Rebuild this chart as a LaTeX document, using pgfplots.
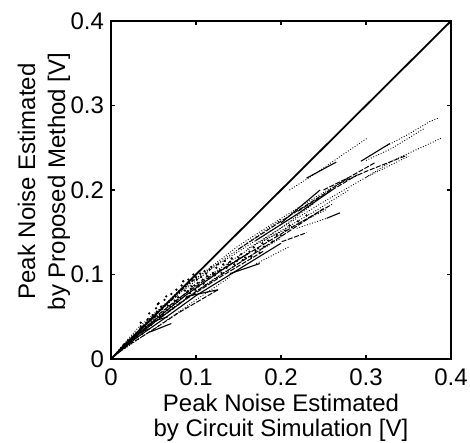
\documentclass[border=0pt]{standalone}
\usepackage{fontspec}
\setmainfont{Liberation Sans}
\usepackage{pgfplots}
\pgfplotsset{compat=1.18}

\begin{document}
\begin{tikzpicture}
\pgfplotsset{
  dotl/.style={black, line width=0.45pt, dash pattern=on 0.45pt off 0.9pt},
  dshl/.style={black, line width=0.5pt, dash pattern=on 2.5pt off 0.8pt},
  sol/.style={black, line width=0.55pt},
}
\begin{axis}[
    scale only axis,
    width=170pt, height=169pt,
    xmin=0, xmax=0.4, ymin=0, ymax=0.4,
    xtick={0,0.1,0.2,0.3,0.4},
    ytick={0,0.1,0.2,0.3,0.4},
    xticklabels={0,0.1,0.2,0.3,0.4},
    yticklabels={0,0.1,0.2,0.3,0.4},
    tick align=inside,
    xtick pos=both, ytick pos=both,
    xticklabel pos=lower, yticklabel pos=left,
    major tick length=2.2pt,
    axis line style={line width=0.9pt},
    tick style={line width=0.6pt, black},
    ticklabel style={font=\fontsize{12}{14}\selectfont},
    xticklabel style={yshift=-1.2pt, inner xsep=0.5pt},
    xlabel={Peak Noise Estimated\\by Circuit Simulation [V]},
    ylabel={Peak Noise Estimated\\by Proposed Method [V]},
    xlabel style={at={(axis description cs:0.5,0)}, anchor=north,
      yshift=-17.5pt, inner sep=0pt, align=center,
      font=\fontsize{12}{12.5}\selectfont},
    ylabel style={at={(axis description cs:-0.197,0.525)}, anchor=center,
      inner sep=0pt, align=center, font=\fontsize{12}{15}\selectfont},
    clip=true,
]
% reference line y = x
\addplot[black, line width=0.9pt] coordinates {(0,0) (0.4,0.4)};

% fan of curves out of the origin
\addplot[dotl] coordinates {(0.005,0.006) (0.03,0.035) (0.06,0.062) (0.1,0.095) (0.15,0.13) (0.2,0.165)};
\addplot[dotl] coordinates {(0.005,0.005) (0.03,0.03) (0.06,0.055) (0.1,0.088) (0.15,0.122) (0.2,0.155) (0.24,0.185)};
\addplot[dshl] coordinates {(0.005,0.005) (0.03,0.027) (0.06,0.05) (0.1,0.08) (0.15,0.113) (0.2,0.145) (0.25,0.178)};
\addplot[sol] coordinates {(0.004,0.004) (0.03,0.025) (0.06,0.046) (0.1,0.075) (0.15,0.106) (0.2,0.137)};
\addplot[dotl] coordinates {(0.003,0.003) (0.03,0.022) (0.06,0.042) (0.1,0.07) (0.14,0.097)};
\addplot[dshl] coordinates {(0.003,0.003) (0.02,0.016) (0.05,0.035) (0.08,0.055) (0.126,0.082)};
\addplot[dotl] coordinates {(0.004,0.005) (0.02,0.022) (0.05,0.05) (0.08,0.077) (0.12,0.108) (0.17,0.14) (0.22,0.172)};
\addplot[sol] coordinates {(0.004,0.004) (0.025,0.024) (0.05,0.045) (0.09,0.077) (0.13,0.105) (0.16,0.124)};
\addplot[dshl] coordinates {(0.01,0.011) (0.04,0.04) (0.08,0.072) (0.12,0.1) (0.17,0.13) (0.22,0.16) (0.26,0.183)};
\addplot[dotl] coordinates {(0.01,0.01) (0.04,0.036) (0.08,0.066) (0.12,0.094) (0.16,0.12) (0.2,0.143)};
\addplot[dotl] coordinates {(0.005,0.006) (0.04,0.042) (0.08,0.081) (0.11,0.103) (0.15,0.134) (0.19,0.16)};
\addplot[dshl] coordinates {(0.02,0.019) (0.05,0.043) (0.09,0.072) (0.13,0.098) (0.18,0.128)};

% main band
\addplot[dshl] coordinates {(0.15,0.13) (0.2,0.163) (0.25,0.195) (0.28,0.215)};
\addplot[sol] coordinates {(0.17,0.14) (0.22,0.172) (0.26,0.2)};
\addplot[dotl] coordinates {(0.16,0.13) (0.2,0.155) (0.25,0.186) (0.3,0.215) (0.35,0.24)};
\addplot[dotl] coordinates {(0.18,0.14) (0.24,0.175) (0.28,0.2)};
\addplot[sol] coordinates {(0.2,0.161) (0.246,0.2)};
\addplot[dshl] coordinates {(0.22,0.175) (0.26,0.2) (0.29,0.218)};
\addplot[dotl] coordinates {(0.175,0.138) (0.215,0.158) (0.254,0.177)};
\addplot[dotl] coordinates {(0.19,0.16) (0.23,0.185) (0.27,0.209)};

% upper right
\addplot[dotl] coordinates {(0.21,0.2) (0.24,0.219) (0.27,0.24) (0.301,0.261)};
\addplot[sol] coordinates {(0.23,0.214) (0.265,0.233)};
\addplot[dotl] coordinates {(0.322,0.251) (0.35,0.266) (0.375,0.281) (0.385,0.285)};
\addplot[dotl] coordinates {(0.3,0.235) (0.33,0.249) (0.369,0.273)};
\addplot[dotl] coordinates {(0.3,0.215) (0.332,0.235) (0.36,0.248) (0.39,0.262)};
\addplot[sol] coordinates {(0.294,0.234) (0.328,0.255)};
\addplot[dshl] coordinates {(0.269,0.208) (0.3,0.222) (0.348,0.241)};
\addplot[dshl] coordinates {(0.25,0.2) (0.28,0.215) (0.31,0.232)};

% lower isolated segments
\addplot[sol] coordinates {(0.2537,0.1665) (0.2694,0.173)};
\addplot[dotl] coordinates {(0.2185,0.1546) (0.2537,0.1665)};
\addplot[dshl] coordinates {(0.2008,0.1388) (0.2302,0.1495)};
\addplot[dotl] coordinates {(0.171,0.113) (0.21,0.133)};
\addplot[sol] coordinates {(0.14,0.101) (0.175,0.113)};
\addplot[sol] coordinates {(0.089,0.074) (0.126,0.082)};
\addplot[sol] coordinates {(0.046,0.032) (0.071,0.042)};
\addplot[sol] coordinates {(0.054,0.046) (0.067,0.05)};
\addplot[sol] coordinates {(0.026,0.028) (0.046,0.036)};

% scattered dots near the diagonal
\addplot[only marks, mark=*, mark size=0.35pt, black] coordinates {
 (0.012,0.013) (0.015,0.017) (0.018,0.016) (0.02,0.022) (0.022,0.02)
 (0.025,0.026) (0.027,0.024) (0.03,0.031) (0.032,0.029) (0.034,0.035)
 (0.036,0.032) (0.038,0.039) (0.04,0.036) (0.042,0.043) (0.044,0.04)
 (0.046,0.047) (0.048,0.043) (0.05,0.05) (0.052,0.046) (0.054,0.056)
 (0.056,0.066) (0.058,0.051) (0.06,0.059) (0.062,0.055) (0.064,0.064)
 (0.066,0.058) (0.068,0.068) (0.07,0.062) (0.072,0.071) (0.074,0.065)
 (0.076,0.074) (0.078,0.068) (0.08,0.079) (0.082,0.072) (0.084,0.083)
 (0.086,0.076) (0.088,0.086) (0.09,0.08) (0.092,0.09) (0.094,0.083)
 (0.096,0.093) (0.098,0.087) (0.1,0.097) (0.102,0.09) (0.105,0.101)
 (0.108,0.094) (0.11,0.104) (0.113,0.098) (0.116,0.106) (0.12,0.102)
 (0.124,0.108) (0.128,0.105) (0.132,0.112) (0.136,0.108) (0.14,0.115)
 (0.145,0.112) (0.15,0.12) (0.155,0.117) (0.16,0.124) (0.165,0.121)
 (0.17,0.128) (0.175,0.126) (0.18,0.133) (0.19,0.139) (0.2,0.146)
 (0.045,0.054) (0.055,0.065) (0.065,0.074) (0.035,0.043) (0.085,0.092)
 (0.015,0.013) (0.02,0.018) (0.024,0.021) (0.028,0.027) (0.031,0.026)
 (0.035,0.038) (0.037,0.03) (0.041,0.038) (0.043,0.047) (0.047,0.04)
 (0.049,0.052) (0.051,0.044) (0.053,0.06) (0.057,0.049) (0.059,0.062)
 (0.061,0.052) (0.063,0.07) (0.067,0.063) (0.069,0.057) (0.071,0.077)
 (0.073,0.06) (0.075,0.069) (0.077,0.082) (0.079,0.073) (0.081,0.066)
 (0.083,0.087) (0.087,0.081) (0.089,0.073) (0.091,0.094) (0.093,0.078)
 (0.095,0.086) (0.097,0.1) (0.099,0.082) (0.101,0.094) (0.103,0.086)
 (0.106,0.097) (0.109,0.089) (0.112,0.101) (0.115,0.095) (0.118,0.109)
 (0.122,0.099) (0.126,0.112) (0.13,0.102) (0.134,0.116) (0.138,0.112)
 (0.142,0.119) (0.148,0.116) (0.153,0.124) (0.158,0.12) (0.163,0.127)
 (0.168,0.132) (0.173,0.131) (0.178,0.137) (0.185,0.14) (0.195,0.147)
 (0.205,0.152) (0.21,0.158) (0.22,0.163) (0.23,0.17)
};
\end{axis}
\path ([xshift=-55.5pt,yshift=-42pt]current axis.south west)
  rectangle ([xshift=9.5pt,yshift=10.5pt]current axis.north east);
\end{tikzpicture}
\end{document}
